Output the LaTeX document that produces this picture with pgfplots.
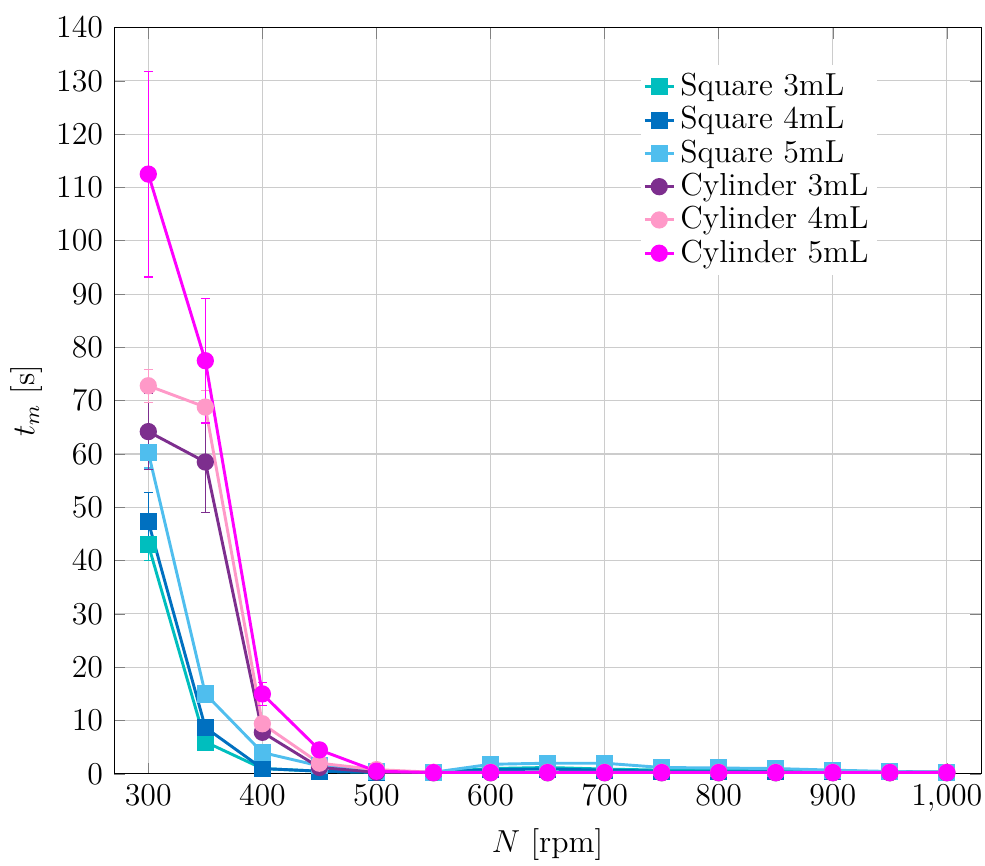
\documentclass[border=0pt,12pt]{standalone}
\usepackage{pgfplots}
\pgfplotsset{compat=1.18}
\definecolor{sq3}{RGB}{0,190,190}
\definecolor{sq4}{RGB}{0,112,192}
\definecolor{sq5}{RGB}{79,190,238}
\definecolor{cy3}{RGB}{125,46,142}
\definecolor{cy4}{RGB}{255,153,200}
\definecolor{cy5}{RGB}{255,0,255}
\begin{document}
\begin{tikzpicture}
\begin{axis}[
  scale only axis,
  width=327pt, height=281.5pt,
  xmin=270, xmax=1030,
  ymin=0, ymax=140,
  xtick={300,400,...,1000},
  ytick={0,10,...,140},
  grid=major,
  grid style={gray!40},
  xlabel={$N$ [rpm]},
  ylabel={$t_m$ [s]},
  xticklabel style={inner xsep=1pt},
  xlabel style={inner sep=0pt, yshift=-2pt},
  ylabel style={yshift=-3pt},
  legend style={draw=none, fill=white, at={(0.88,0.95)}, anchor=north east, row sep=-1.7pt, inner sep=1pt},
  legend cell align=left,
  legend image code/.code={\draw[mark repeat=2,mark phase=2] plot coordinates {(0cm,0cm) (0.19cm,0cm) (0.38cm,0cm)};},
  every axis plot/.append style={line width=1.1pt, mark size=2.7pt},
  error bars/error bar style={line width=0.5pt, solid},
  error bars/error mark options={rotate=90, mark size=1.7pt, line width=0.5pt},
]
\addplot[color=sq3, mark=square*, error bars/.cd, y dir=both, y explicit] coordinates {
(300,43.0) +- (0,3.0) (350,6.0) +- (0,0.5) (400,1.0) (450,0.5) (500,0.3) (550,0.3) (600,1.0) (650,1.2) (700,0.9) (750,0.7) (800,0.6) (850,0.6) (900,0.5) (950,0.4) (1000,0.3)};
\addlegendentry{Square 3mL}
\addplot[color=sq4, mark=square*, error bars/.cd, y dir=both, y explicit] coordinates {
(300,47.3) +- (0,5.5) (350,8.7) +- (0,0.8) (400,1.0) (450,0.5) (500,0.3) (550,0.3) (600,0.8) (650,0.9) (700,0.7) (750,0.5) (800,0.5) (850,0.4) (900,0.4) (950,0.4) (1000,0.3)};
\addlegendentry{Square 4mL}
\addplot[color=sq5, mark=square*, error bars/.cd, y dir=both, y explicit] coordinates {
(300,60.3) +- (0,2.9) (350,15.0) +- (0,0.8) (400,4.0) (450,1.5) (500,0.5) (550,0.3) (600,1.8) (650,2.0) (700,2.0) (750,1.2) (800,1.1) (850,1.0) (900,0.7) (950,0.45) (1000,0.3)};
\addlegendentry{Square 5mL}
\addplot[color=cy3, mark=*, error bars/.cd, y dir=both, y explicit] coordinates {
(300,64.2) +- (0,7.1) (350,58.5) +- (0,9.5) (400,7.8) +- (0,1.0) (450,1.2) (500,0.3) (550,0.2) (600,0.2) (650,0.2) (700,0.2) (750,0.2) (800,0.2) (850,0.2) (900,0.2) (950,0.2) (1000,0.2)};
\addlegendentry{Cylinder 3mL}
\addplot[color=cy4, mark=*, error bars/.cd, y dir=both, y explicit] coordinates {
(300,72.8) +- (0,3.1) (350,68.8) +- (0,3.1) (400,9.4) +- (0,1.0) (450,2.0) (500,0.8) (550,0.3) (600,0.3) (650,0.3) (700,0.3) (750,0.3) (800,0.3) (850,0.3) (900,0.3) (950,0.3) (1000,0.3)};
\addlegendentry{Cylinder 4mL}
\addplot[color=cy5, mark=*, error bars/.cd, y dir=both, y explicit] coordinates {
(300,112.5) +- (0,19.3) (350,77.5) +- (0,11.7) (400,15.0) +- (0,2.2) (450,4.5) (500,0.5) (550,0.25) (600,0.25) (650,0.25) (700,0.25) (750,0.25) (800,0.25) (850,0.25) (900,0.25) (950,0.25) (1000,0.25)};
\addlegendentry{Cylinder 5mL}
\end{axis}
\path (current axis.outer north) ++(0,2.5pt);
\path (current axis.outer south) ++(0,-2pt);
\end{tikzpicture}
\end{document}
